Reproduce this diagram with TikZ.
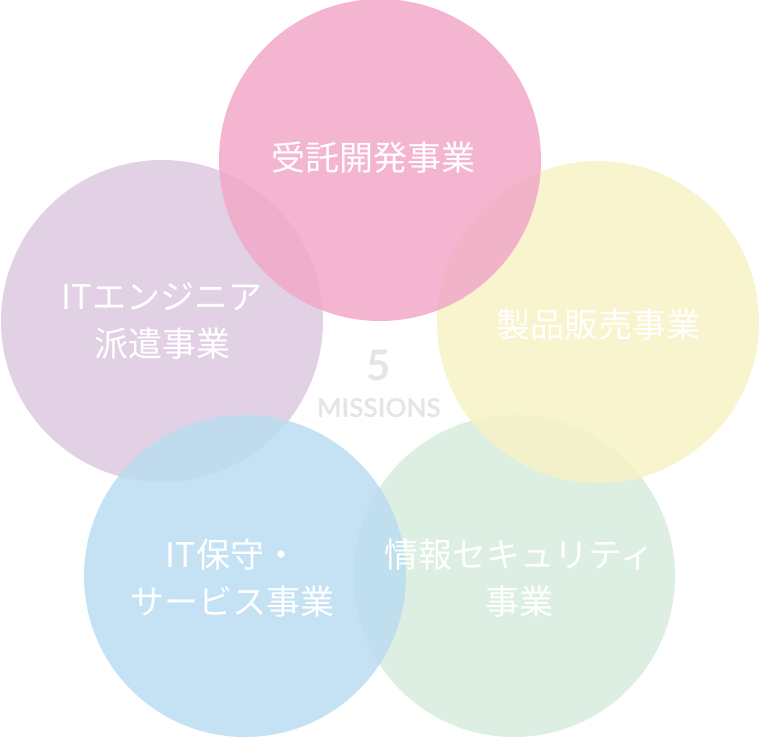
\documentclass[tikz,border=0pt]{standalone}
\usepackage{fontspec}
\usepackage{xcolor}
\newfontfamily\jpfont{Noto Sans CJK JP}
\newfontfamily\latofont{Lato}
\definecolor{pinkc}{RGB}{241,168,200}
\definecolor{purplec}{RGB}{221,200,224}
\definecolor{yellowc}{RGB}{247,242,197}
\definecolor{bluec}{RGB}{186,221,241}
\definecolor{greenc}{RGB}{215,235,221}
\definecolor{grayc}{RGB}{229,229,229}

\tikzset{
    mission/.style={fill opacity=0.85},
    label/.style={text=white, font=\jpfont\fontsize{34}{47}\selectfont, align=center, inner sep=0pt}
}

\begin{document}
\begin{tikzpicture}[x=1pt, y=-1pt]
    \useasboundingbox (0,0) rectangle (759,737);

    % Circles
    \fill[purplec, mission] (162,321) circle (161);
    \fill[greenc, mission] (514,576) circle (161);
    \fill[bluec, mission] (245,576) circle (161);
    \fill[yellowc, mission] (598,322) circle (161);
    \fill[pinkc, mission] (380,160) circle (161);

    % Labels
    \node[label] (jutaku) at (373,158) {受託開発事業};
    \node[label] (haken) at (162,321) {ITエンジニア\\派遣事業};
    \node[label] (seihin) at (598,325) {製品販売事業};
    \node[label] (hoshu) at (232,578) {IT保守・\\サービス事業};
    \node[label] (security) at (519,578) {情報セキュリティ\\事業};

    % Center
    \node[text=grayc, font=\latofont\bfseries\fontsize{42}{42}\selectfont, inner sep=0pt] (five) at (379,365) {5};
    \node[text=grayc, font=\latofont\bfseries\fontsize{26}{26}\selectfont, inner sep=0pt] (missions) at (379,408) {MISSIONS};
\end{tikzpicture}
\end{document}
